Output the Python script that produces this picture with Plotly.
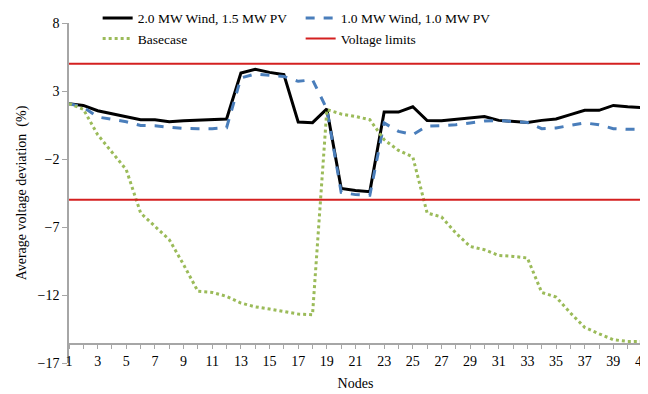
import plotly.graph_objects as go

nodes = list(range(1, 42))

wind2_pv15 = [2.07, 1.94, 1.55, 1.33, 1.13, 0.89, 0.89, 0.74, 0.82, 0.87,
              0.89, 0.94, 4.32, 4.60, 4.37, 4.20, 0.72, 0.67, 1.68, -4.16,
              -4.31, -4.40, 1.45, 1.45, 1.84, 0.83, 0.82, 0.94, 1.06, 1.13,
              0.84, 0.77, 0.69, 0.84, 0.94, 1.26, 1.58, 1.58, 1.94, 1.84, 1.77]

wind1_pv1 = [2.07, 1.82, 1.09, 0.94, 0.74, 0.47, 0.45, 0.33, 0.25, 0.23,
             0.23, 0.30, 3.96, 4.25, 4.15, 4.07, 3.71, 3.83, 1.68, -4.45,
             -4.62, -4.67, 0.65, 0.03, -0.21, 0.42, 0.45, 0.52, 0.65, 0.79,
             0.82, 0.74, 0.69, 0.23, 0.28, 0.47, 0.65, 0.52, 0.23, 0.18, 0.18]

basecase = [2.07, 1.66, -0.21, -1.46, -2.79, -5.97, -6.95, -7.93, -9.77, -11.73,
            -11.81, -12.10, -12.59, -12.87, -13.03, -13.20, -13.40, -13.45, 1.63, 1.31,
            1.13, 0.89, -0.58, -1.37, -1.85, -5.97, -6.26, -7.44, -8.43, -8.67,
            -9.09, -9.16, -9.28, -11.81, -12.15, -13.32, -14.38, -14.85, -15.29, -15.41, -15.41]

upper_limit = 5
lower_limit = -5

y_min, y_max = -17, 8
x_cross = -15.58

font = "Liberation Serif, Times New Roman, serif"

fig = go.Figure()
fig.add_trace(go.Scatter(x=nodes, y=wind2_pv15, mode="lines", name="2.0 MW Wind, 1.5 MW PV",
                         line=dict(color="black", width=3)))
fig.add_trace(go.Scatter(x=nodes, y=wind1_pv1, mode="lines", name="1.0 MW Wind, 1.0 MW PV",
                         line=dict(color="#4A7EBB", width=3, dash="dash")))
fig.add_trace(go.Scatter(x=nodes, y=basecase, mode="lines", name="Basecase",
                         line=dict(color="#9BBB59", width=3, dash="dot")))
fig.add_trace(go.Scatter(x=[nodes[0], nodes[-1]], y=[upper_limit, upper_limit], mode="lines",
                         name="Voltage limits", line=dict(color="#D42020", width=2)))
fig.add_trace(go.Scatter(x=[nodes[0], nodes[-1]], y=[lower_limit, lower_limit], mode="lines",
                         name="Voltage limits", showlegend=False,
                         line=dict(color="#D42020", width=2)))

# the page body has an 8 px margin, so the figure is 8 px smaller than the window
fig.update_layout(
    width=640, height=386,
    margin=dict(l=61, r=6, t=15, b=31, autoexpand=False),
    paper_bgcolor="white", plot_bgcolor="white",
    font=dict(family=font, size=14, color="black"),
    showlegend=True,
    legend=dict(orientation="h", x=0.05, y=1.06, xanchor="left", yanchor="top",
                entrywidth=158, entrywidthmode="pixels",
                font=dict(family=font, size=13.5), bgcolor="rgba(0,0,0,0)",
                tracegroupgap=0, itemwidth=30),
    xaxis=dict(range=[1, 41], tick0=1, dtick=2, showgrid=False, zeroline=False,
               showline=True, linecolor="#A6A6A6", linewidth=1.5,
               ticks="outside", ticklen=5, tickcolor="#A6A6A6",
               minor=dict(dtick=1, tick0=1, ticks="outside", ticklen=5, tickcolor="#A6A6A6", showgrid=False),
               anchor="free", position=(x_cross - y_min) / (y_max - y_min),
               automargin=False, ticklabeloverflow="allow",
               title=dict(text="Nodes", standoff=9, font=dict(size=14)),
               tickfont=dict(size=14)),
    yaxis=dict(range=[y_min, y_max], tick0=-17, dtick=5, showgrid=False, zeroline=False,
               showline=True, linecolor="#A6A6A6", linewidth=1.5,
               ticks="outside", ticklen=5, tickcolor="#A6A6A6", automargin=False,
               title=dict(text="Average voltage deviation  (%)", standoff=8, font=dict(size=14)),
               tickfont=dict(size=14)),
)

fig.write_html("out.html")
